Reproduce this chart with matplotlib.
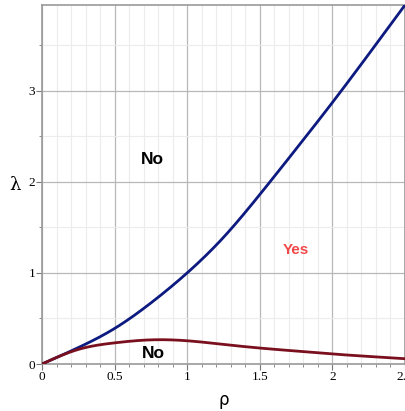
import matplotlib
matplotlib.use("Agg")
import matplotlib.pyplot as plt
import numpy as np
from matplotlib.ticker import MultipleLocator

# Upper boundary curve (blue)
rho_blue = [0.0, 0.25, 0.5, 0.75, 1.0, 1.25, 1.5, 1.75, 2.0, 2.25, 2.5]
lam_blue = [0.0, 0.18, 0.39, 0.67, 1.0, 1.39, 1.86, 2.36, 2.87, 3.40, 3.94]

# Lower boundary curve (red)
rho_red = [0.0, 0.25, 0.5, 0.75, 1.0, 1.25, 1.5, 1.75, 2.0, 2.25, 2.5]
lam_red = [0.0, 0.16, 0.232, 0.265, 0.255, 0.215, 0.175, 0.142, 0.11, 0.083, 0.058]

x_ticks = [0, 0.5, 1, 1.5, 2, 2.5]
x_tick_labels = ["0", "0.5", "1", "1.5", "2", "2.5"]
y_ticks = [0, 1, 2, 3]
y_tick_labels = ["0", "1", "2", "3"]

fig = plt.figure(figsize=(4.05, 4.11), dpi=100)
ax = fig.add_axes([42/405, 47/411, 363/405, 359/411])


def smooth(x, y, n=400):
    """Natural cubic spline through the read points."""
    x = np.asarray(x, float)
    y = np.asarray(y, float)
    npts = len(x)
    h = np.diff(x)
    A = np.zeros((npts, npts))
    b = np.zeros(npts)
    A[0, 0] = 1
    A[-1, -1] = 1
    for i in range(1, npts - 1):
        A[i, i - 1] = h[i - 1]
        A[i, i] = 2 * (h[i - 1] + h[i])
        A[i, i + 1] = h[i]
        b[i] = 3 * ((y[i + 1] - y[i]) / h[i] - (y[i] - y[i - 1]) / h[i - 1])
    c = np.linalg.solve(A, b)
    xs = np.linspace(x[0], x[-1], n)
    ys = np.empty_like(xs)
    for j, xv in enumerate(xs):
        k = min(max(np.searchsorted(x, xv, side="right") - 1, 0), npts - 2)
        bk = (y[k + 1] - y[k]) / h[k] - h[k] * (2 * c[k] + c[k + 1]) / 3
        dk = (c[k + 1] - c[k]) / (3 * h[k])
        t = xv - x[k]
        ys[j] = y[k] + bk * t + c[k] * t ** 2 + dk * t ** 3
    return xs, ys


xb, yb = smooth(rho_blue, lam_blue)
xr, yr = smooth(rho_red, lam_red)

ax.plot(xb, yb, color="#0d1a80", lw=2.0, zorder=3)
ax.plot(xr, yr, color="#7a0f1e", lw=2.0, zorder=3)

ax.set_xlim(0, 2.5)
ax.set_ylim(0, 3.94)

ax.set_xticks(x_ticks)
ax.set_xticklabels(x_tick_labels)
ax.set_yticks(y_ticks)
ax.set_yticklabels(y_tick_labels)
ax.xaxis.set_minor_locator(MultipleLocator(0.1))
ax.yaxis.set_minor_locator(MultipleLocator(0.5))

ax.grid(which="major", color="#b8b8b8", lw=0.9, zorder=0)
ax.grid(which="minor", color="#ececec", lw=0.8, zorder=0)
ax.set_axisbelow(True)

for s in ax.spines.values():
    s.set_color("#9a9a9a")
    s.set_linewidth(1.2)

ax.tick_params(which="major", direction="out", length=4, color="#777777",
               labelsize=9.5, pad=1)
ax.tick_params(which="minor", direction="out", length=2.5, color="#777777")
for lab in ax.get_xticklabels() + ax.get_yticklabels():
    lab.set_family("Liberation Serif")

ax.set_xlabel("ρ", fontsize=12, family="DejaVu Sans", labelpad=6)
ax.set_ylabel("λ", fontsize=13, family="DejaVu Serif", rotation=0,
              va="center")
ax.yaxis.set_label_coords(-0.075, 0.50)

ax.text(0.76, 2.24, "No", fontsize=12.5, fontweight="bold", family="Liberation Sans",
        ha="center", va="center", color="black")
ax.text(1.75, 1.25, "Yes", fontsize=11, fontweight="bold", family="Liberation Sans",
        ha="center", va="center", color="#f04848")
ax.text(0.77, 0.11, "No", fontsize=12.5, fontweight="bold", family="Liberation Sans",
        ha="center", va="center", color="black")

fig.savefig("out.png", dpi=100, facecolor="white")
